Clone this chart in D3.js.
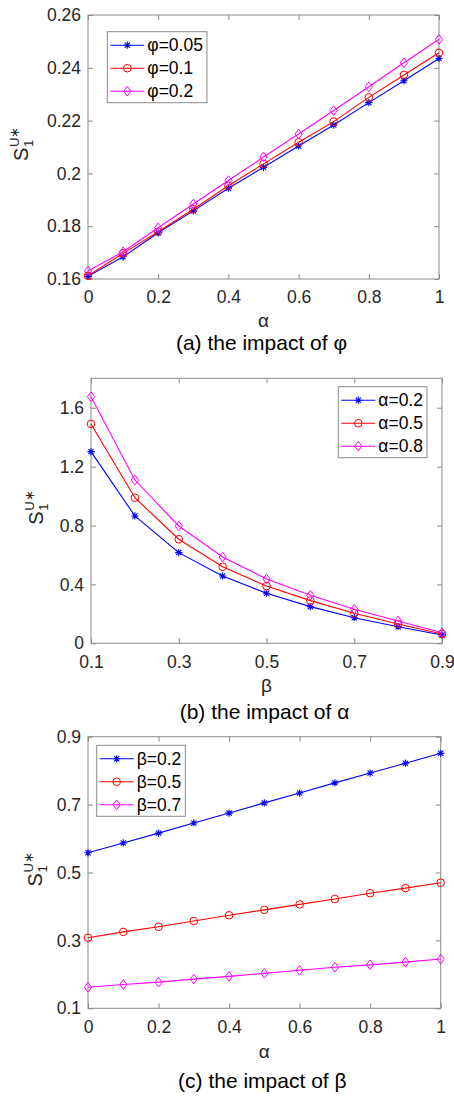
<!DOCTYPE html>
<html><head><meta charset="utf-8">
<script src="https://cdn.jsdelivr.net/npm/d3@7"></script>
<style>
body{margin:0;background:#fff;}
svg{display:block;font-family:"Liberation Sans",Arial,sans-serif;}
</style></head><body>
<svg id="chart" width="454" height="1098"></svg>
<script>
// x grids
const alphaSteps = [0, 0.1, 0.2, 0.3, 0.4, 0.5, 0.6, 0.7, 0.8, 0.9, 1];
const betaSteps = [0.1, 0.2, 0.3, 0.4, 0.5, 0.6, 0.7, 0.8, 0.9];

// (a) S1 vs alpha for several phi
const phiLabels = ["φ=0.05", "φ=0.1", "φ=0.2"];
const phi005 = [0.1610, 0.1684, 0.1775, 0.1858, 0.1944, 0.2023, 0.2104, 0.2183, 0.2268, 0.2351, 0.2435];
const phi01  = [0.1612, 0.1697, 0.1779, 0.1864, 0.1953, 0.2036, 0.2118, 0.2196, 0.2288, 0.2373, 0.2457];
const phi02  = [0.1630, 0.1703, 0.1794, 0.1884, 0.1973, 0.2062, 0.2149, 0.2238, 0.2328, 0.2419, 0.2508];

// (b) S1 vs beta for several alpha
const alphaLabels = ["α=0.2", "α=0.5", "α=0.8"];
const alpha02 = [1.302, 0.865, 0.616, 0.457, 0.340, 0.249, 0.174, 0.113, 0.056];
const alpha05 = [1.490, 0.989, 0.707, 0.520, 0.389, 0.290, 0.204, 0.131, 0.063];
const alpha08 = [1.675, 1.109, 0.797, 0.586, 0.437, 0.326, 0.231, 0.151, 0.072];

// (c) S1 vs alpha for several beta
const betaLabels = ["β=0.2", "β=0.5", "β=0.7"];
const beta02 = [0.558, 0.587, 0.616, 0.646, 0.675, 0.705, 0.734, 0.764, 0.793, 0.822, 0.851];
const beta05 = [0.308, 0.325, 0.340, 0.357, 0.374, 0.390, 0.406, 0.422, 0.439, 0.454, 0.470];
const beta07 = [0.162, 0.170, 0.177, 0.186, 0.194, 0.203, 0.212, 0.221, 0.228, 0.236, 0.245];

// tick values
const ticksAx = [0, 0.2, 0.4, 0.6, 0.8, 1];
const ticksAy = [0.16, 0.18, 0.2, 0.22, 0.24, 0.26];
const ticksBx = [0.1, 0.3, 0.5, 0.7, 0.9];
const ticksBy = [0, 0.4, 0.8, 1.2, 1.6];
const ticksCx = [0, 0.2, 0.4, 0.6, 0.8, 1];
const ticksCy = [0.1, 0.3, 0.5, 0.7, 0.9];

const seriesColors = ["#0000ff", "#ff0000", "#ff00ff"];
const seriesMarkers = ["star", "circle", "diamond"];

const AXIS_COLOR = "#8a8a8a";
const TEXT_COLOR = "#262626";

const svg = d3.select("#chart");

function marker(g, type, x, y, color) {
  if (type === "circle") {
    g.append("circle").attr("cx", x).attr("cy", y).attr("r", 3.8)
      .attr("fill", "none").attr("stroke", color).attr("stroke-width", 1);
  } else if (type === "diamond") {
    const p = d3.path();
    p.moveTo(x, y - 4.8); p.lineTo(x + 3.6, y); p.lineTo(x, y + 4.8); p.lineTo(x - 3.6, y); p.closePath();
    g.append("path").attr("d", p.toString()).attr("fill", "none")
      .attr("stroke", color).attr("stroke-width", 1);
  } else {
    const p = d3.path(), r = 3.6, d = 2.6;
    p.moveTo(x - r, y); p.lineTo(x + r, y);
    p.moveTo(x, y - r); p.lineTo(x, y + r);
    p.moveTo(x - d, y - d); p.lineTo(x + d, y + d);
    p.moveTo(x - d, y + d); p.lineTo(x + d, y - d);
    g.append("path").attr("d", p.toString()).attr("fill", "none")
      .attr("stroke", color).attr("stroke-width", 1.1);
  }
}

function drawPanel(cfg) {
  const x = d3.scaleLinear().domain(cfg.xDomain).range([cfg.left, cfg.right]);
  const y = d3.scaleLinear().domain(cfg.yDomain).range([cfg.bottom, cfg.top]);
  const g = svg.append("g");

  const styleAxis = (sel, showText) => {
    sel.select(".domain").remove();
    sel.selectAll(".tick line").attr("stroke", AXIS_COLOR);
    sel.selectAll(".tick text")
      .attr("fill", TEXT_COLOR)
      .style("font-size", "17.5px")
      .style("font-family", "'Liberation Sans', Arial, sans-serif");
    if (!showText) sel.selectAll(".tick text").remove();
  };

  g.append("g").attr("transform", `translate(0,${cfg.bottom})`)
    .call(d3.axisBottom(x).tickValues(cfg.xTicks).tickFormat(d => String(d)).tickSize(-5).tickPadding(12))
    .call(s => styleAxis(s, true));
  g.append("g").attr("transform", `translate(0,${cfg.top})`)
    .call(d3.axisTop(x).tickValues(cfg.xTicks).tickSize(-5))
    .call(s => styleAxis(s, false));
  g.append("g").attr("transform", `translate(${cfg.left},0)`)
    .call(d3.axisLeft(y).tickValues(cfg.yTicks).tickFormat(d => String(d)).tickSize(-5).tickPadding(7))
    .call(s => styleAxis(s, true));
  g.append("g").attr("transform", `translate(${cfg.right},0)`)
    .call(d3.axisRight(y).tickValues(cfg.yTicks).tickSize(-5))
    .call(s => styleAxis(s, false));

  g.append("rect")
    .attr("x", cfg.left).attr("y", cfg.top)
    .attr("width", cfg.right - cfg.left).attr("height", cfg.bottom - cfg.top)
    .attr("fill", "none").attr("stroke", AXIS_COLOR).attr("stroke-width", 1);

  // series lines and markers
  const line = d3.line().x(d => x(d[0])).y(d => y(d[1]));
  cfg.series.forEach((vals, i) => {
    const pts = cfg.xs.map((xv, k) => [xv, vals[k]]);
    g.append("path").datum(pts).attr("d", line)
      .attr("fill", "none").attr("stroke", seriesColors[i]).attr("stroke-width", 1.1);
    const mg = g.append("g");
    pts.forEach(p => marker(mg, seriesMarkers[i], x(p[0]), y(p[1]), seriesColors[i]));
  });

  // legend
  const lg = g.append("g").attr("transform", `translate(${cfg.legend[0]},${cfg.legend[1]})`);
  const box = lg.append("rect").attr("fill", "#fff").attr("stroke", AXIS_COLOR).attr("stroke-width", 1);
  let maxW = 0;
  cfg.labels.forEach((lab, i) => {
    const ry = 13.5 + i * 23;
    lg.append("line").attr("x1", 3).attr("x2", 37).attr("y1", ry).attr("y2", ry)
      .attr("stroke", seriesColors[i]).attr("stroke-width", 1.1);
    marker(lg, seriesMarkers[i], 20, ry, seriesColors[i]);
    const t = lg.append("text").attr("x", 40).attr("y", ry).attr("dy", "0.36em")
      .attr("fill", "#000").style("font-size", "17.5px").text(lab);
    maxW = Math.max(maxW, t.node().getComputedTextLength());
  });
  box.attr("x", 0).attr("y", 0).attr("width", 40 + maxW + 4).attr("height", 71);

  // y-axis title: S with subscript 1 and superscript U*
  const yl = g.append("g").attr("transform", `translate(${cfg.yLabelX},${(cfg.top + cfg.bottom) / 2}) rotate(-90)`)
    .attr("fill", TEXT_COLOR);
  yl.append("text").attr("x", -14).attr("y", 0).style("font-size", "20px").text("S");
  yl.append("text").attr("x", 0).attr("y", 5).style("font-size", "13px").text("1");
  yl.append("text").attr("x", 0).attr("y", -9).style("font-size", "13px").text("U∗");

  // x-axis title and caption
  const cx = (cfg.left + cfg.right) / 2;
  g.append("text").attr("x", cx).attr("y", cfg.xTitleY).attr("text-anchor", "middle")
    .attr("fill", TEXT_COLOR).style("font-size", "19px").text(cfg.xTitle);
  g.append("text").attr("x", cx - 2).attr("y", cfg.captionY).attr("text-anchor", "middle")
    .attr("fill", "#000").style("font-size", "21px").text(cfg.caption);
}

drawPanel({
  left: 88, right: 439, top: 15, bottom: 279,
  xDomain: [0, 1], yDomain: [0.16, 0.26],
  xTicks: ticksAx, yTicks: ticksAy,
  xs: alphaSteps, series: [phi005, phi01, phi02], labels: phiLabels,
  legend: [107.3, 31.7], yLabelX: 28, xTitle: "α", xTitleY: 327,
  caption: "(a) the impact of φ", captionY: 350
});

drawPanel({
  left: 91, right: 442, top: 378.3, bottom: 643.3,
  xDomain: [0.1, 0.9], yDomain: [0, 1.8],
  xTicks: ticksBx, yTicks: ticksBy,
  xs: betaSteps, series: [alpha02, alpha05, alpha08], labels: alphaLabels,
  legend: [338.3, 386.7], yLabelX: 43, xTitle: "β", xTitleY: 692,
  caption: "(b) the impact of α", captionY: 719
});

drawPanel({
  left: 88, right: 440.7, top: 736.7, bottom: 1008.3,
  xDomain: [0, 1], yDomain: [0.1, 0.9],
  xTicks: ticksCx, yTicks: ticksCy,
  xs: alphaSteps, series: [beta02, beta05, beta07], labels: betaLabels,
  legend: [96.7, 745.3], yLabelX: 42, xTitle: "α", xTitleY: 1058,
  caption: "(c) the impact of β", captionY: 1088
});
</script>
</body></html>
